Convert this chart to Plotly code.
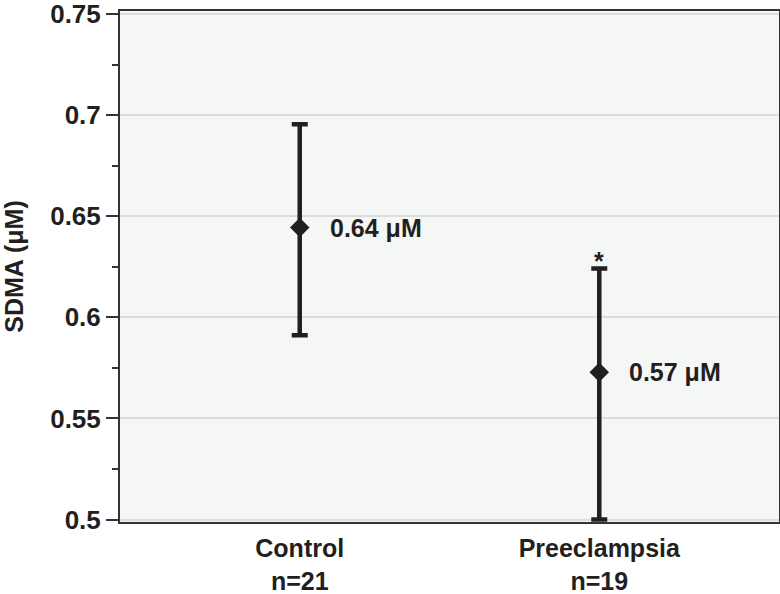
import plotly.graph_objects as go

categories = ["Control", "Preeclampsia"]
sample_sizes = ["n=21", "n=19"]
means = [0.6444, 0.5729]
upper = [0.6955, 0.6242]
lower = [0.5911, 0.5000]
value_labels = ["0.64 μM", "0.57 μM"]
significance = ["", "*"]
y_ticks = [0.5, 0.55, 0.6, 0.65, 0.7, 0.75]
y_tick_labels = ["0.5", "0.55", "0.6", "0.65", "0.7", "0.75"]

INK = "#231f20"
FONT = "Liberation Sans, Arial, sans-serif"
FS = 26

fig = go.Figure()
fig.add_trace(go.Scatter(
    x=categories,
    y=means,
    mode="markers",
    marker=dict(symbol="diamond", size=15, color=INK, line=dict(width=0)),
    error_y=dict(
        type="data",
        symmetric=False,
        array=[u - m for u, m in zip(upper, means)],
        arrayminus=[m - l for m, l in zip(means, lower)],
        color=INK,
        thickness=4.5,
        width=8,
    ),
    showlegend=False,
    cliponaxis=False,
))

for c, m, lab in zip(categories, means, value_labels):
    fig.add_annotation(x=c, y=m, text="<b>%s</b>" % lab, showarrow=False,
                       xanchor="left", yanchor="middle", xshift=28, yshift=0,
                       font=dict(size=FS - 1, color=INK, family=FONT))

for c, u, s in zip(categories, upper, significance):
    if s:
        fig.add_annotation(x=c, y=u, text="<b>%s</b>" % s, showarrow=False,
                           xanchor="center", yanchor="bottom", yshift=-9,
                           font=dict(size=FS - 1, color=INK, family=FONT))

fig.update_layout(
    width=780, height=594,
    margin=dict(l=120, r=1, t=11, b=72),
    paper_bgcolor="white",
    plot_bgcolor="#f5f6f6",
    font=dict(family=FONT, color=INK, size=FS),
)

fig.update_xaxes(
    type="category",
    range=[-0.6, 1.6],
    tickvals=categories,
    ticktext=["<b>%s</b><br><b>%s</b>" % (c, n) for c, n in zip(categories, sample_sizes)],
    showgrid=False,
    showline=True, linecolor="#333333", linewidth=2, mirror=True,
    ticks="",
    ticklabelstandoff=3,
    ticklabeloverflow="allow",
    tickfont=dict(size=FS - 1, family=FONT, color=INK),
    zeroline=False,
    automargin=False,
)

fig.update_yaxes(
    range=[0.4988, 0.7515],
    tickvals=y_ticks,
    ticktext=["<b>%s</b>" % t for t in y_tick_labels],
    showgrid=True, gridcolor="#dcdcdc", gridwidth=1.5,
    showline=True, linecolor="#333333", linewidth=2, mirror=True,
    ticks="outside", ticklen=12, tickwidth=2, tickcolor="#333333",
    minor=dict(dtick=0.025, tick0=0.5, ticks="outside", ticklen=6, tickwidth=2,
               tickcolor="#333333", showgrid=False),
    ticklabeloverflow="allow",
    tickfont=dict(size=FS, family=FONT, color=INK),
    title=dict(text="<b>SDMA (μM)</b>", font=dict(size=FS - 1, family=FONT, color=INK), standoff=28),
    zeroline=False,
    automargin=False,
)

fig.write_html("out.html", config={"displayModeBar": False},
               post_script="document.body.style.margin='0';document.body.style.padding='0';")
